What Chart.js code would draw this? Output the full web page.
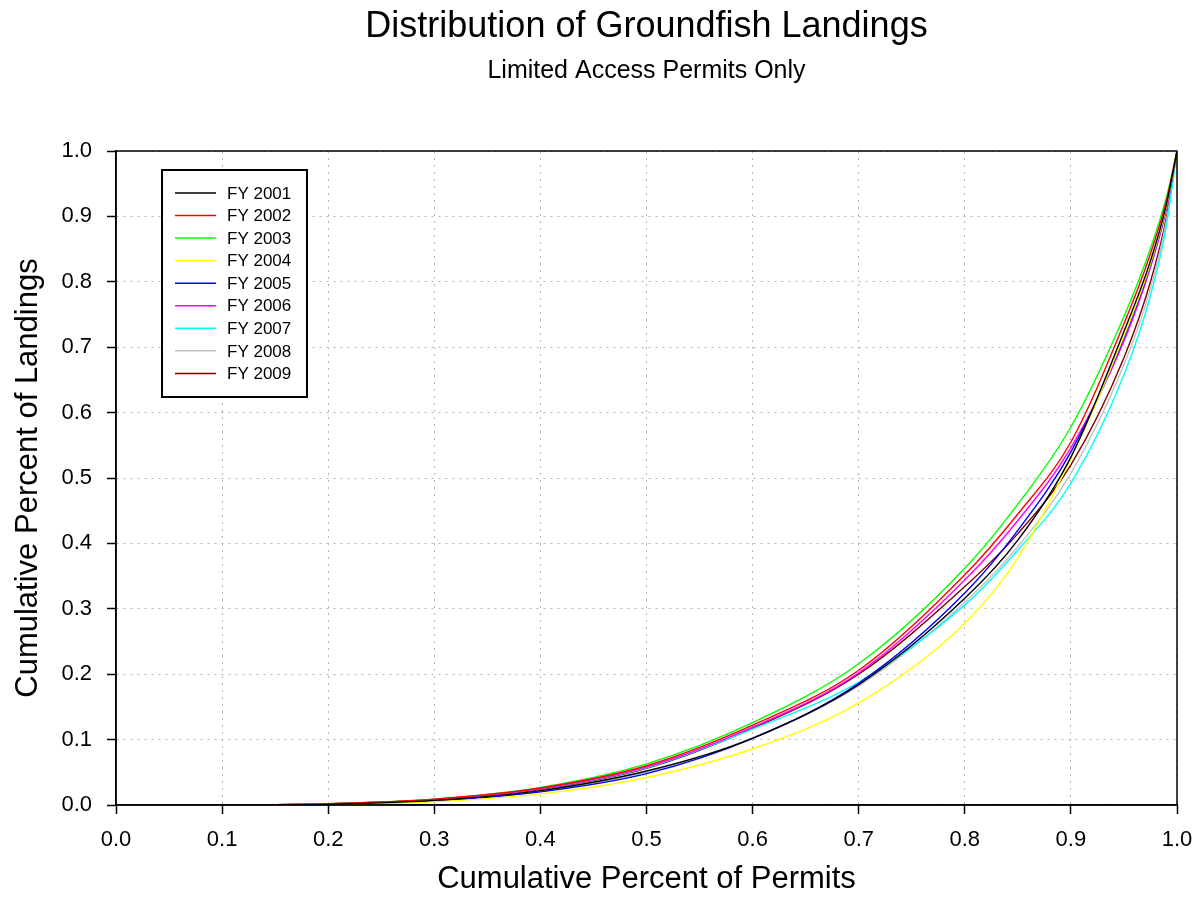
<!DOCTYPE html>
<html>
<head>
<meta charset="utf-8">
<title>Distribution of Groundfish Landings</title>
<script src="https://cdn.jsdelivr.net/npm/chart.js@4/dist/chart.umd.min.js"></script>
<style>
    body { margin: 0; background: #fff; }
    #wrap { width: 1202px; height: 907px; }
</style>
</head>
<body>
<div id="wrap"><canvas id="lorenzChart" width="1202" height="907"></canvas></div>
<script>
// Cumulative share of permits (x) and cumulative share of landings (y) per fishing year
const permitShare = [0, 0.1, 0.2, 0.3, 0.4, 0.5, 0.6, 0.7, 0.8, 0.85, 0.9, 0.95, 0.975, 0.99, 1.0];

const fy2001 = [0, 0, 0.001, 0.007, 0.022, 0.052, 0.102, 0.184, 0.316, 0.405, 0.532, 0.724, 0.832, 0.918, 1];
const fy2002 = [0, 0, 0.002, 0.009, 0.026, 0.060, 0.122, 0.206, 0.352, 0.445, 0.555, 0.736, 0.843, 0.924, 1];
const fy2003 = [0, 0, 0.002, 0.009, 0.027, 0.063, 0.126, 0.216, 0.362, 0.460, 0.578, 0.747, 0.851, 0.929, 1];
const fy2004 = [0, 0, 0.001, 0.005, 0.017, 0.042, 0.086, 0.156, 0.278, 0.378, 0.530, 0.717, 0.828, 0.915, 1];
const fy2005 = [0, 0, 0.001, 0.006, 0.020, 0.048, 0.102, 0.186, 0.324, 0.420, 0.540, 0.714, 0.826, 0.913, 1];
const fy2006 = [0, 0, 0.002, 0.008, 0.025, 0.058, 0.119, 0.202, 0.344, 0.435, 0.546, 0.709, 0.822, 0.911, 1];
const fy2007 = [0, 0, 0.002, 0.008, 0.025, 0.057, 0.116, 0.188, 0.306, 0.390, 0.492, 0.658, 0.779, 0.885, 1];
const fy2008 = [0, 0, 0.001, 0.007, 0.021, 0.050, 0.103, 0.182, 0.310, 0.395, 0.507, 0.673, 0.790, 0.893, 1];
const fy2009 = [0, 0, 0.002, 0.008, 0.024, 0.056, 0.117, 0.200, 0.334, 0.415, 0.520, 0.684, 0.800, 0.898, 1];

const seriesLabels = ['FY 2001', 'FY 2002', 'FY 2003', 'FY 2004', 'FY 2005', 'FY 2006', 'FY 2007', 'FY 2008', 'FY 2009'];
const seriesValues = [fy2001, fy2002, fy2003, fy2004, fy2005, fy2006, fy2007, fy2008, fy2009];
const seriesColors = ['#000000', '#ff0000', '#00ff00', '#ffff00', '#0000ff', '#ff00ff', '#00ffff', '#c0c0c0', '#800000'];

const chartTitle = 'Distribution of Groundfish Landings';
const chartSubtitle = 'Limited Access Permits Only';

const FONT = "'Liberation Sans', Arial, sans-serif";

// Title and subtitle centred over the plot area rather than the canvas
const headings = {
    id: 'headings',
    afterDraw(chart) {
        const { ctx, chartArea } = chart;
        const cx = (chartArea.left + chartArea.right) / 2;
        ctx.save();
        ctx.fillStyle = '#000';
        ctx.textAlign = 'center';
        ctx.textBaseline = 'middle';
        ctx.font = '36px ' + FONT;
        ctx.fillText(chartTitle, cx, 27);
        ctx.font = '25px ' + FONT;
        ctx.fillText(chartSubtitle, cx, 71);
        ctx.restore();
    }
};

// Boxed legend sitting in the upper left of the plot
const boxLegend = {
    id: 'boxLegend',
    afterDatasetsDraw(chart) {
        const { ctx, chartArea } = chart;
        const left = chartArea.left + 46;
        const top = chartArea.top + 19;
        const w = 145, h = 227;
        ctx.save();
        ctx.fillStyle = '#fff';
        ctx.fillRect(left, top, w, h);
        ctx.strokeStyle = '#000';
        ctx.lineWidth = 2;
        ctx.strokeRect(left, top, w, h);
        ctx.font = '17px ' + FONT;
        ctx.textBaseline = 'middle';
        ctx.textAlign = 'left';
        chart.data.datasets.forEach((ds, i) => {
            const rowY = top + 23 + i * 22.55;
            ctx.strokeStyle = ds.borderColor;
            ctx.lineWidth = 1.5;
            ctx.beginPath();
            ctx.moveTo(left + 13, rowY);
            ctx.lineTo(left + 54, rowY);
            ctx.stroke();
            ctx.fillStyle = '#000';
            ctx.fillText(ds.label, left + 65, rowY + 1);
        });
        ctx.restore();
    }
};

// Closed frame round the plot area
const plotFrame = {
    id: 'plotFrame',
    afterDraw(chart) {
        const { ctx, chartArea } = chart;
        ctx.save();
        ctx.strokeStyle = '#000';
        ctx.lineWidth = 1.5;
        ctx.strokeRect(chartArea.left, chartArea.top, chartArea.right - chartArea.left, chartArea.bottom - chartArea.top);
        ctx.restore();
    }
};

const datasets = seriesLabels.map((label, i) => ({
    label: label,
    data: permitShare.map((x, j) => ({ x: x, y: seriesValues[i][j] })),
    borderColor: seriesColors[i],
    backgroundColor: seriesColors[i],
    borderWidth: 1.4,
    pointRadius: 0,
    cubicInterpolationMode: 'monotone',
    fill: false
}));

function axisOptions(titleText) {
    return {
        type: 'linear',
        min: 0,
        max: 1,
        ticks: {
            stepSize: 0.1,
            color: '#000',
            font: { family: FONT, size: 22 },
            callback: v => v.toFixed(1)
        },
        grid: {
            color: '#b4b4b4',
            lineWidth: 1,
            tickColor: '#000',
            tickLength: 9,
            tickWidth: 1.5
        },
        border: { color: '#000', width: 1.5, dash: [2, 5] },
        title: {
            display: true,
            text: titleText,
            color: '#000',
            font: { family: FONT, size: 31 }
        }
    };
}

// fixed axis sizes so the plot box lands at 116..1177 x 151..805
const xAxis = axisOptions('Cumulative Percent of Permits');
xAxis.ticks.padding = 13;
xAxis.title.padding = { top: 0, bottom: 9 };
xAxis.afterFit = scale => {
    scale.height = 102;
    scale.paddingLeft = 0;
    scale.paddingRight = 0;
};

const yAxis = axisOptions('Cumulative Percent of Landings');
yAxis.ticks.padding = 15;
yAxis.title.padding = { top: 10, bottom: 0 };
yAxis.afterFit = scale => { scale.width = 116; };

new Chart(document.getElementById('lorenzChart'), {
    type: 'line',
    data: { datasets: datasets },
    options: {
        responsive: false,
        animation: false,
        layout: { padding: { top: 151, right: 25, bottom: 0, left: 0 } },
        plugins: {
            legend: { display: false },
            tooltip: { enabled: false },
            title: { display: false }
        },
        scales: { x: xAxis, y: yAxis }
    },
    plugins: [boxLegend, plotFrame, headings]
});
</script>
</body>
</html>
